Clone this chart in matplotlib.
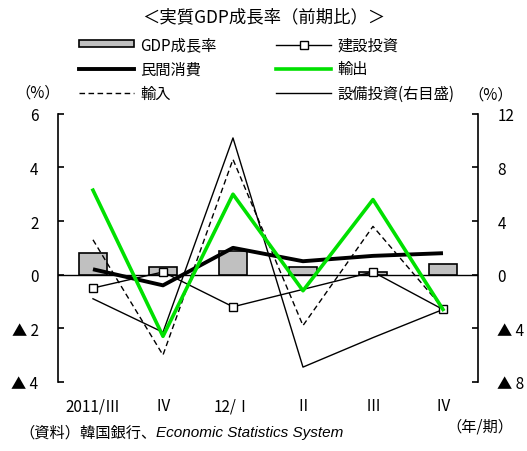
import matplotlib
matplotlib.use("Agg")
import matplotlib.pyplot as plt
from matplotlib.lines import Line2D
from matplotlib.patches import Patch

plt.rcParams['font.family'] = ['Noto Sans CJK JP', 'DejaVu Sans']
plt.rcParams['font.size'] = 10

# 四半期
quarters = ["2011/Ⅲ", "Ⅳ", "12/Ⅰ", "Ⅱ", "Ⅲ", "Ⅳ"]
# 前期比(%)
gdp = [0.8, 0.3, 0.9, 0.3, 0.1, 0.4]
consumption = [0.2, -0.4, 1.0, 0.5, 0.7, 0.8]
construction = [-0.5, 0.1, -1.2, -0.55, 0.1, -1.3]
exports = [3.15, -2.3, 3.0, -0.6, 2.8, -1.3]
imports = [1.3, -3.0, 4.3, -1.9, 1.8, -1.25]
# 設備投資は右目盛
equipment = [-1.8, -4.3, 10.2, -6.9, -4.7, -2.6]

left_ticks = [6, 4, 2, 0, -2, -4]
right_ticks = [12, 8, 4, 0, -4, -8]


def tri_label(v):
    return "▲ %d" % abs(v) if v < 0 else "%d" % v


x = range(len(quarters))

fig = plt.figure(figsize=(5.27, 4.52), dpi=100)
ax = fig.add_axes([0.110, 0.153, 0.797, 0.593])
ax2 = ax.twinx()
ax.set_zorder(ax2.get_zorder() + 1)
ax.patch.set_visible(False)

ax.bar(x, gdp, width=0.41, color="#c0c0c0", edgecolor="black", linewidth=1.2, zorder=2)
ax.axhline(0, color="black", lw=1, zorder=1)
ax.plot(x, consumption, color="black", lw=2.8, zorder=3, solid_capstyle="butt")
ax.plot(x, construction, color="black", lw=1, marker="s", markersize=6,
        markerfacecolor="white", markeredgecolor="black", markeredgewidth=1,
        markevery=[0, 1, 2, 4, 5], zorder=4)
ax.plot(x, imports, color="black", lw=1, dashes=(4, 2.5), zorder=4)
ax.plot(x, exports, color="#00e000", lw=2.6, zorder=5)

ax2.plot(x, equipment, color="black", lw=1)

ax.set_xlim(-0.5, 5.5)
ax.set_ylim(-4, 6)
ax2.set_ylim(-8, 12)

ax.set_yticks(left_ticks)
ax.set_yticklabels([tri_label(v) for v in left_ticks], fontsize=11)
ax2.set_yticks(right_ticks)
ax2.set_yticklabels([tri_label(v) for v in right_ticks], fontsize=11)
ax.tick_params(axis="y", direction="in", length=4, width=1.2, pad=14)
ax2.tick_params(axis="y", direction="in", length=4, width=1.2, pad=14)

ax.set_xticks(list(x))
ax.set_xticklabels(quarters, fontsize=11)
ax.tick_params(axis="x", length=0, pad=11)

for a in (ax, ax2):
    a.spines["top"].set_visible(False)
    a.spines["bottom"].set_visible(False)
ax.spines["right"].set_visible(False)
ax2.spines["left"].set_visible(False)
ax.spines["left"].set_linewidth(1.2)
ax2.spines["right"].set_linewidth(1.2)

# 凡例
handles = [
    Patch(facecolor="#c0c0c0", edgecolor="black", linewidth=1.2),
    Line2D([], [], color="black", lw=2.8),
    Line2D([], [], color="black", lw=1, dashes=(4, 2.5)),
    Line2D([], [], color="black", lw=1, marker="s", markersize=6,
           markerfacecolor="white", markeredgecolor="black"),
    Line2D([], [], color="#00e000", lw=2.6),
    Line2D([], [], color="black", lw=1),
]
labels = ["GDP成長率", "民間消費", "輸入", "建設投資", "輸出", "設備投資(右目盛)"]
fig.legend(handles, labels, ncol=2, frameon=False, loc="upper left",
           bbox_to_anchor=(0.124, 0.948), handlelength=3.6, handleheight=0.3,
           handletextpad=0.4, columnspacing=3.9, labelspacing=0.47, fontsize=11)

fig.text(0.5, 0.962, "＜実質GDP成長率（前期比）＞", ha="center", va="center", fontsize=12.5)
fig.text(0.072, 0.794, "（%）", ha="center", va="center", fontsize=11)
fig.text(0.932, 0.789, "（%）", ha="center", va="center", fontsize=11)
fig.text(0.975, 0.055, "（年/期）", ha="right", va="center", fontsize=11)

src = fig.text(0.036, 0.042, "（資料）韓国銀行、", ha="left", va="center", fontsize=11)
ax.annotate("Economic Statistics System", xy=(1, 0.5), xycoords=src,
            ha="left", va="center", fontsize=11, fontstyle="italic",
            family="Liberation Sans", annotation_clip=False)

fig.savefig("out.png", dpi=100)
